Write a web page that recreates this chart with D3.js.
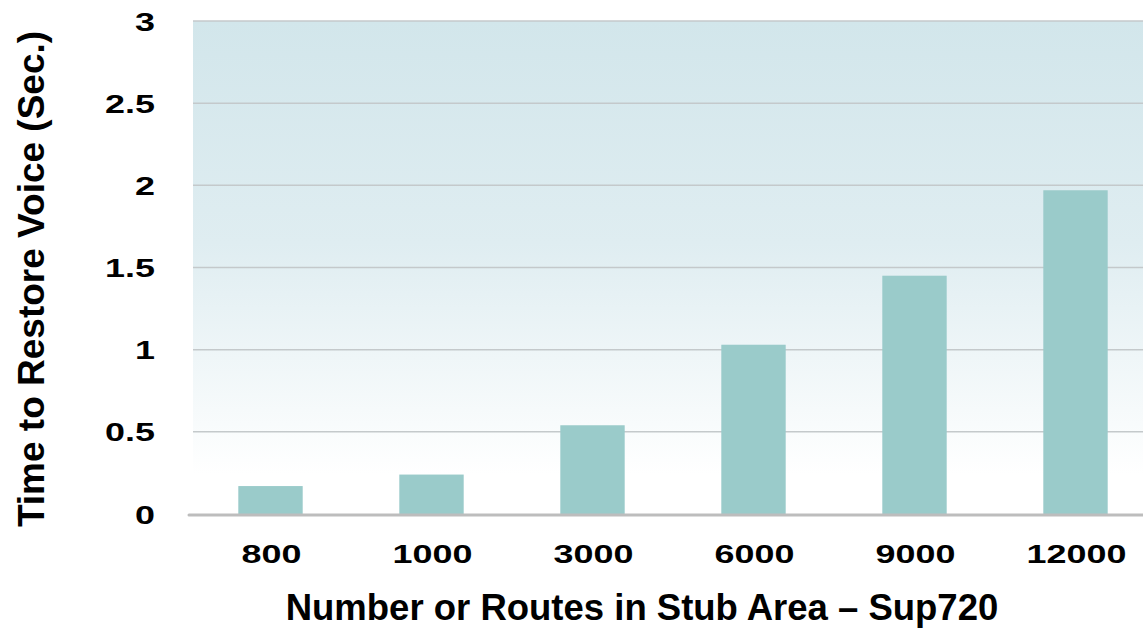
<!DOCTYPE html>
<html>
<head>
<meta charset="utf-8">
<script src="https://cdn.jsdelivr.net/npm/d3@7"></script>
<style>
  html, body { margin: 0; padding: 0; background: #fff; }
  svg { display: block; font-family: "Liberation Sans", Arial, sans-serif; }
</style>
</head>
<body>
<svg id="chart" width="1143" height="629"></svg>
<script>
// Route counts in the stub area and the measured voice restoration time
const categories = ["800", "1000", "3000", "6000", "9000", "12000"];
const restoreSeconds = [0.17, 0.24, 0.54, 1.03, 1.45, 1.97];
const yTicks = [0, 0.5, 1, 1.5, 2, 2.5, 3];
const yTickLabels = ["0", "0.5", "1", "1.5", "2", "2.5", "3"];

const svg = d3.select("#chart");

const plot = { left: 193, right: 1143, top: 21, bottom: 514 };

const x = d3.scaleBand()
  .domain(categories)
  .range([190, 1156])
  .paddingInner(0.6)
  .paddingOuter(0.3);

const y = d3.scaleLinear()
  .domain([0, 3])
  .range([plot.bottom, plot.top]);

// Tick labels use a wide, stretched bold face
const tickFont = 26;
const tickStretch = 1.38;

// Background gradient of the plotting area
const defs = svg.append("defs");
const grad = defs.append("linearGradient")
  .attr("id", "bg").attr("x1", 0).attr("y1", 0).attr("x2", 0).attr("y2", 1);
grad.append("stop").attr("offset", "0%").attr("stop-color", "#d2e6eb");
grad.append("stop").attr("offset", "45%").attr("stop-color", "#dfedf1");
grad.append("stop").attr("offset", "92%").attr("stop-color", "#ffffff");

svg.append("rect")
  .attr("x", plot.left).attr("y", plot.top)
  .attr("width", plot.right - plot.left)
  .attr("height", plot.bottom - plot.top)
  .attr("fill", "url(#bg)");

// Horizontal gridlines
svg.append("g")
  .selectAll("line")
  .data(yTicks.filter(d => d > 0))
  .join("line")
  .attr("x1", plot.left).attr("x2", plot.right)
  .attr("y1", d => y(d)).attr("y2", d => y(d))
  .attr("stroke", "#c4c9cb")
  .attr("stroke-width", 1.5);

// Bars
svg.append("g")
  .selectAll("rect")
  .data(restoreSeconds)
  .join("rect")
  .attr("x", (d, i) => x(categories[i]))
  .attr("width", x.bandwidth())
  .attr("y", d => y(d))
  .attr("height", d => y(0) - y(d))
  .attr("fill", "#9acbca");

// Baseline
svg.append("line")
  .attr("x1", 189).attr("x2", plot.right)
  .attr("y1", y(0) + 1).attr("y2", y(0) + 1)
  .attr("stroke", "#bdbdbd")
  .attr("stroke-width", 3)
  .attr("stroke-linecap", "round");

// Y axis tick labels
svg.append("g")
  .selectAll("text")
  .data(yTicks)
  .join("text")
  .attr("transform", d => `translate(155,${y(d) + 9.5}) scale(${tickStretch},1)`)
  .attr("text-anchor", "end")
  .attr("font-size", tickFont)
  .attr("font-weight", "bold")
  .attr("fill", "#000")
  .text((d, i) => yTickLabels[i]);

// X axis tick labels
svg.append("g")
  .selectAll("text")
  .data(categories)
  .join("text")
  .attr("transform", d => `translate(${x(d) + x.bandwidth() / 2 + 1},563) scale(${tickStretch},1)`)
  .attr("text-anchor", "middle")
  .attr("font-size", tickFont)
  .attr("font-weight", "bold")
  .attr("fill", "#000")
  .text(d => d);

// Axis titles
svg.append("text")
  .attr("x", 642)
  .attr("y", 620)
  .attr("text-anchor", "middle")
  .attr("font-size", 36.5)
  .attr("font-weight", "bold")
  .attr("fill", "#000")
  .text("Number or Routes in Stub Area \u2013 Sup720");

svg.append("text")
  .attr("transform", "translate(44,279) rotate(-90)")
  .attr("text-anchor", "middle")
  .attr("font-size", 37)
  .attr("font-weight", "bold")
  .attr("fill", "#000")
  .text("Time to Restore Voice (Sec.)");
</script>
</body>
</html>
